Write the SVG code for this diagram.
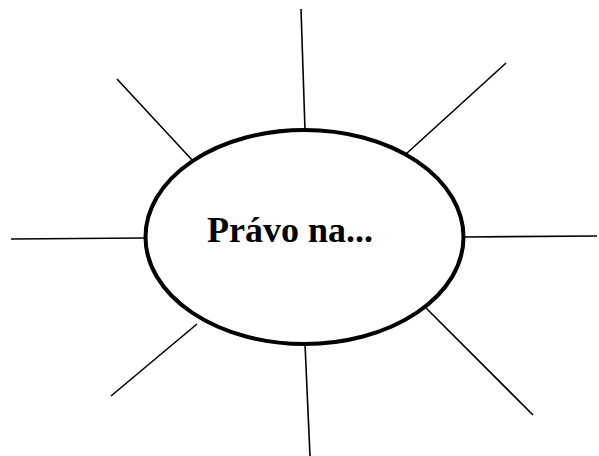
<svg xmlns="http://www.w3.org/2000/svg" width="599" height="456" viewBox="0 0 599 456">
<style>
.ray{stroke:#000;stroke-width:1.6;fill:none}
.node{fill:#fff;stroke:#000;stroke-width:4}
.label{font-family:"Liberation Serif","Times New Roman",serif;font-weight:bold;font-size:36px;fill:#000}
</style>
<rect width="599" height="456" fill="#fff"/>
<g id="connectors">
<line class="ray" x1="301" y1="9" x2="305" y2="130"/>
<line class="ray" x1="506" y1="63" x2="406" y2="154"/>
<line class="ray" x1="464" y1="237" x2="597" y2="236"/>
<line class="ray" x1="426" y1="308" x2="533" y2="415"/>
<line class="ray" x1="305" y1="344" x2="310" y2="456"/>
<line class="ray" x1="197" y1="324" x2="111" y2="396"/>
<line class="ray" x1="145" y1="238" x2="11" y2="239"/>
<line class="ray" x1="117" y1="79" x2="193" y2="161"/>
</g>
<g id="center-node">
<ellipse class="node" cx="304.5" cy="237" rx="159" ry="107"/>
<text class="label" x="207" y="242">Právo na...</text>
</g>
</svg>
